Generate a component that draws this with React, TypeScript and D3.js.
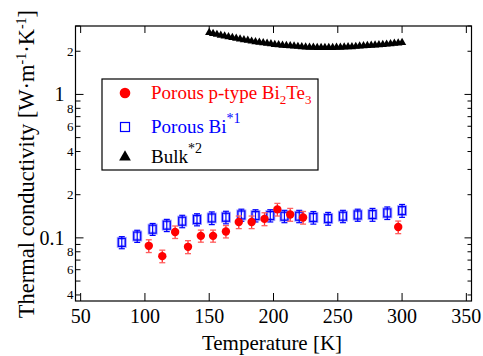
import React from 'react';
import * as d3 from 'd3';

// Porous p-type Bi2Te3
const redT = [103, 113.5, 123.5, 133.5, 143.5, 153, 163, 173, 183, 193, 203, 213, 223, 297];
const redK = [0.088, 0.0746, 0.11, 0.0866, 0.1033, 0.1033, 0.1109, 0.129, 0.129, 0.1356, 0.158, 0.1455, 0.1387, 0.119];
const redErr = [0.009, 0.0075, 0.011, 0.009, 0.01, 0.01, 0.011, 0.013, 0.013, 0.014, 0.016, 0.015, 0.014, 0.012];

// Porous Bi
const blueT = [82, 94, 106, 117, 129, 140.5, 152, 163, 175, 186, 197.5, 208.5, 220, 231, 242.5, 254, 265.5, 277, 288.5, 300];
const blueK = [0.093, 0.103, 0.115, 0.1226, 0.1307, 0.1343, 0.1377, 0.1393, 0.1445, 0.1431, 0.1431, 0.1416, 0.1416, 0.1387, 0.1365, 0.1416, 0.1445, 0.1455, 0.1493, 0.155];
const blueErr = [0.009, 0.01, 0.011, 0.012, 0.013, 0.013, 0.014, 0.014, 0.014, 0.014, 0.014, 0.014, 0.014, 0.014, 0.014, 0.014, 0.014, 0.015, 0.015, 0.016];

// Bulk
const bulkT = [150, 153, 156, 159, 162, 165, 168, 171, 174, 177, 180, 183, 186, 189, 192, 195, 198, 201, 204, 207, 210, 213, 216, 219, 222, 225, 228, 231, 234, 237, 240, 243, 246, 249, 252, 255, 258, 261, 264, 267, 270, 273, 276, 279, 282, 285, 288, 291, 294, 297, 300];
const bulkK = [2.7, 2.66, 2.62, 2.58, 2.55, 2.52, 2.49, 2.46, 2.43, 2.4, 2.38, 2.35, 2.33, 2.31, 2.29, 2.27, 2.25, 2.23, 2.22, 2.2, 2.19, 2.18, 2.17, 2.16, 2.15, 2.14, 2.13, 2.13, 2.12, 2.12, 2.12, 2.12, 2.12, 2.13, 2.13, 2.14, 2.15, 2.15, 2.16, 2.17, 2.18, 2.19, 2.2, 2.21, 2.22, 2.23, 2.24, 2.25, 2.27, 2.28, 2.3];

const xTicks = [50, 100, 150, 200, 250, 300, 350];
const yMajor = [0.1, 1];
const yMinor = [0.04, 0.05, 0.06, 0.07, 0.08, 0.09, 0.2, 0.3, 0.4, 0.5, 0.6, 0.7, 0.8, 0.9, 2, 3];
const yMinorLabels = ['4', '', '6', '', '8', '', '2', '', '4', '', '6', '', '8', '', '2', ''];

const W = 483, H = 356;
const L = 75.5, R = 471.5, T = 26, B = 301;
const font = '"Liberation Serif", "Times New Roman", serif';

const App = () => {
  const x = d3.scaleLinear().domain([46, 354]).range([L, R]);
  const y = d3.scaleLog().domain([0.0363, 3]).range([B, T]);
  const tri = d3.symbol().type(d3.symbolTriangle).size(30)();

  return (
    <svg width={W} height={H} style={{ position: 'absolute', left: 0, top: 0, background: '#fff' }} fontFamily={font}>
      <defs>
        <clipPath id="plot"><rect x={L} y={T} width={R - L} height={B - T} /></clipPath>
      </defs>

      {/* bulk */}
      <g clipPath="url(#plot)">
        {bulkT.map((t, i) => (
          <path key={i} d={tri!} transform={`translate(${x(t)},${y(bulkK[i])})`} fill="#000" />
        ))}
      </g>

      {/* porous Bi */}
      {blueT.map((t, i) => {
        const cx = x(t), cy = y(blueK[i]);
        const y1 = y(blueK[i] + blueErr[i]), y2 = y(blueK[i] - blueErr[i]);
        return (
          <g key={i}>
            <rect x={cx - 3.5} y={cy - 4} width={7} height={8} fill="none" stroke="#0000ff" strokeOpacity={0.35} strokeWidth={3} />
            <line x1={cx} x2={cx} y1={y1} y2={y2} stroke="#0000ff" strokeWidth={1.2} />
            <line x1={cx - 3} x2={cx + 3} y1={y1} y2={y1} stroke="#0000ff" strokeWidth={1.2} />
            <line x1={cx - 3} x2={cx + 3} y1={y2} y2={y2} stroke="#0000ff" strokeWidth={1.2} />
            <rect x={cx - 3.5} y={cy - 4} width={7} height={8} fill="none" stroke="#0000ff" strokeWidth={1.2} />
          </g>
        );
      })}

      {/* porous p-type Bi2Te3 */}
      {redT.map((t, i) => {
        const cx = x(t), cy = y(redK[i]);
        const y1 = y(redK[i] + redErr[i]), y2 = y(redK[i] - redErr[i]);
        return (
          <g key={i}>
            <line x1={cx} x2={cx} y1={y1} y2={y2} stroke="#ff3030" strokeWidth={1.3} />
            <line x1={cx - 3} x2={cx + 3} y1={y1} y2={y1} stroke="#ff6060" strokeWidth={1.3} />
            <line x1={cx - 3} x2={cx + 3} y1={y2} y2={y2} stroke="#ff6060" strokeWidth={1.3} />
            <circle cx={cx} cy={cy} r={4.2} fill="#ff0000" />
          </g>
        );
      })}

      {/* frame */}
      <rect x={L} y={T} width={R - L} height={B - T} fill="none" stroke="#000" strokeWidth={1.2} />

      {/* x ticks */}
      {xTicks.map(t => (
        <g key={t}>
          <line x1={x(t)} x2={x(t)} y1={B} y2={B - 8} stroke="#000" strokeWidth={1} />
          <line x1={x(t)} x2={x(t)} y1={T} y2={T + 7} stroke="#000" strokeWidth={1} />
          <text x={x(t)} y={B + 22} textAnchor="middle" fontSize={20}>{t}</text>
        </g>
      ))}

      {/* y ticks */}
      {yMajor.map(v => (
        <g key={v}>
          <line x1={L} x2={L + 8} y1={y(v)} y2={y(v)} stroke="#000" strokeWidth={1} />
          <line x1={R} x2={R - 7} y1={y(v)} y2={y(v)} stroke="#000" strokeWidth={1} />
          <text x={64.5} y={y(v) + 7} textAnchor="end" fontSize={20}>{v}</text>
        </g>
      ))}
      {yMinor.map((v, i) => (
        <g key={v}>
          <line x1={L} x2={L + 5} y1={y(v)} y2={y(v)} stroke="#000" strokeWidth={1} />
          <line x1={R} x2={R - 4} y1={y(v)} y2={y(v)} stroke="#000" strokeWidth={1} />
          {yMinorLabels[i] && (
            <text x={73.5} y={y(v) + 4.5} textAnchor="end" fontSize={13}>{yMinorLabels[i]}</text>
          )}
        </g>
      ))}

      {/* axis titles */}
      <text x={272} y={350} textAnchor="middle" fontSize={21}>Temperature [K]</text>
      <text transform={`translate(34,164) rotate(-90)`} textAnchor="middle" fontSize={22.5}>
        Thermal conductivity [W·m<tspan dy={-8} fontSize={14}>-1</tspan><tspan dy={8}>·K</tspan><tspan dy={-8} fontSize={14}>-1</tspan><tspan dy={8}>]</tspan>
      </text>

      {/* legend */}
      <rect x={102} y={79} width={216} height={91} fill="#fff" stroke="#000" strokeWidth={1.2} />
      <circle cx={125} cy={93} r={5.3} fill="#ff0000" />
      <text x={151} y={99} fontSize={19} fill="#ff0000">
        Porous p-type Bi<tspan dy={5} fontSize={13}>2</tspan><tspan dy={-5}>Te</tspan><tspan dy={5} fontSize={13}>3</tspan>
      </text>
      <rect x={120.5} y={122.5} width={9} height={9} fill="none" stroke="#0000ff" strokeWidth={1.2} />
      <text x={151} y={133} fontSize={19} fill="#0000ff">
        Porous Bi<tspan dy={-10} fontSize={14}>*1</tspan>
      </text>
      <path d={d3.symbol().type(d3.symbolTriangle).size(60)()!} transform="translate(125,157)" fill="#000" />
      <text x={151} y={163} fontSize={19} fill="#000">
        Bulk<tspan dy={-10} fontSize={14}>*2</tspan>
      </text>
    </svg>
  );
};

export default App;
